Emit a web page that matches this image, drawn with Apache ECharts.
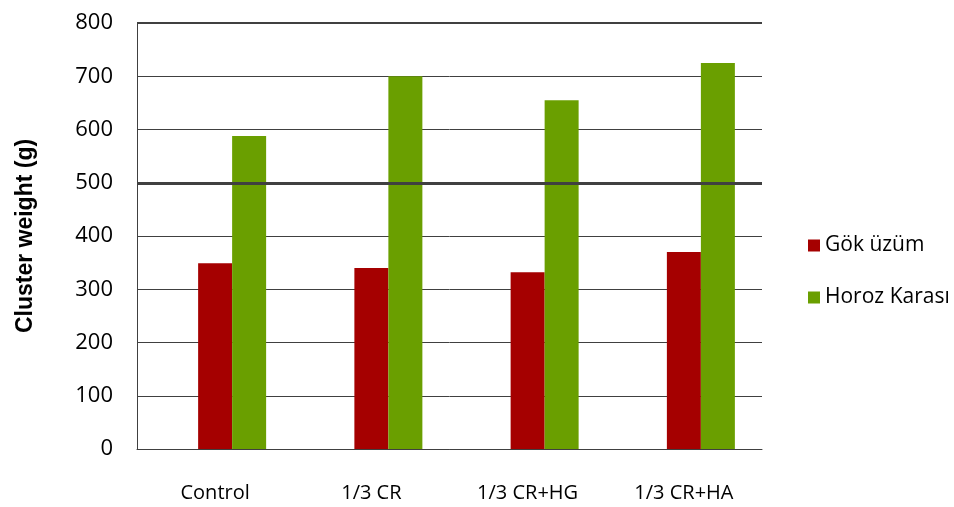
<!DOCTYPE html>
<html><head><meta charset="utf-8">
<script src="https://cdn.jsdelivr.net/npm/echarts@6/dist/echarts.min.js"></script>
<style>html,body{margin:0;padding:0;background:#fff}#c{width:954px;height:507px}</style>
</head><body><div id="c"></div>
<script>
var categories = ['Control', '1/3 CR', '1/3 CR+HG', '1/3 CR+HA'];
var gokUzum = [349, 340, 332, 370];
var horozKarasi = [588, 700, 655, 725];
var emptySeries = [null, null, null, null];
var yTicks = {min: 0, max: 800, interval: 100};

var chart = echarts.init(document.getElementById('c'), null, {renderer: 'canvas'});
chart.setOption({
  animation: false,
  grid: {left: 137, top: 23, right: 192, bottom: 58, containLabel: false},
  legend: {
    orient: 'vertical', left: 803, top: 230, itemWidth: 12, itemHeight: 12, itemGap: 31,
    icon: 'rect', data: ['Gök üzüm', 'Horoz Karası'],
    textStyle: {fontFamily: 'Open Sans', fontSize: 21, color: '#000', padding: [0, 0, 0, 0]}
  },
  xAxis: {
    type: 'category', data: categories,
    axisLine: {show: true, lineStyle: {color: '#404040', width: 1}},
    axisTick: {show: false},
    axisLabel: {margin: 34, fontFamily: 'Open Sans', fontSize: 20, color: '#000'}
  },
  yAxis: {
    type: 'value', min: yTicks.min, max: yTicks.max, interval: yTicks.interval,
    name: 'Cluster weight (g)', nameLocation: 'middle', nameGap: 100, nameRotate: 90,
    nameTextStyle: {fontFamily: 'Liberation Sans', fontWeight: 'bold', fontSize: 23, color: '#000'},
    axisLine: {show: true, lineStyle: {color: '#404040', width: 1}},
    axisTick: {show: false},
    axisLabel: {margin: 24, fontFamily: 'Open Sans', fontSize: 22, color: '#000'},
    splitLine: {show: true, lineStyle: {color: '#404040', width: 1}}
  },
  series: [
    {name: 'empty', type: 'bar', data: emptySeries, barWidth: 34, barGap: '0%',
     markLine: {silent: true, symbol: 'none', label: {show: false},
       data: [{yAxis: 500, lineStyle: {color: '#404040', width: 3, type: 'solid'}},
              {yAxis: 800, lineStyle: {color: '#404040', width: 2, type: 'solid'}}]}},
    {name: 'Gök üzüm', type: 'bar', data: gokUzum, barWidth: 34, barGap: '0%',
     itemStyle: {color: '#A50000'}},
    {name: 'Horoz Karası', type: 'bar', data: horozKarasi, barWidth: 34, barGap: '0%',
     itemStyle: {color: '#6A9F00'}}
  ]
});
</script></body></html>
